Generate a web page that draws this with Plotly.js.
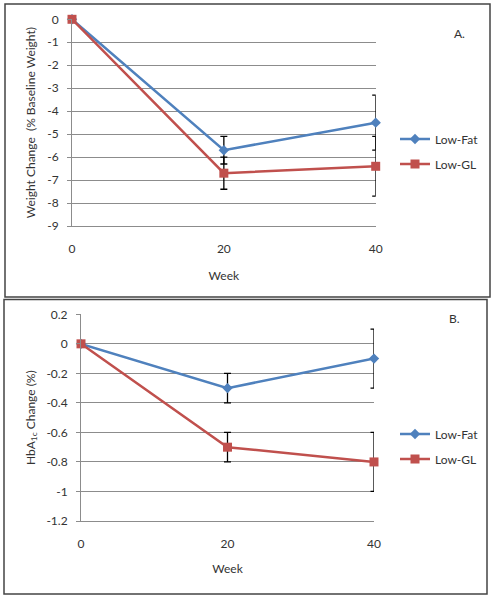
<!DOCTYPE html>
<html>
<head>
<meta charset="utf-8">
<script src="https://cdn.plot.ly/plotly-3.0.1.min.js"></script>
<style>html,body{margin:0;padding:0;background:#fff;}#chart{width:494px;height:599px;}</style>
</head>
<body>
<div id="chart"></div>
<script>
// ---- data ----
const weeks = [0, 20, 40];
const weightLowFat = [0, -5.7, -4.5];
const weightLowGL = [0, -6.7, -6.4];
const weightLowFatErr = [null, 0.6, 1.2];
const weightLowGLErr = [null, 0.7, 1.3];
const hbaLowFat = [0, -0.3, -0.1];
const hbaLowGL = [0, -0.7, -0.8];
const hbaLowFatErr = [null, 0.1, 0.2];
const hbaLowGLErr = [null, 0.1, 0.2];
const xTickVals = [0, 20, 40];
const xTickText = ["0", "20", "40"];
const yTickValsA = [0, -1, -2, -3, -4, -5, -6, -7, -8, -9];
const yTickTextA = ["0", "-1", "-2", "-3", "-4", "-5", "-6", "-7", "-8", "-9"];
const yTickValsB = [0.2, 0, -0.2, -0.4, -0.6, -0.8, -1, -1.2];
const yTickTextB = ["0.2", "0", "-0.2", "-0.4", "-0.6", "-0.8", "-1", "-1.2"];
const seriesNames = ["Low-Fat", "Low-GL"];

// ---- helpers ----
const W = 494, H = 599;
const px = x => x / W;
const py = y => 1 - y / H;
const BLUE = "#4F81BD", RED = "#C0504D";
const FONT = "Lato, 'Liberation Sans', sans-serif";

function tr(x, y, err, name, color, symbol, size, xa, ya, leg) {
  return {
    x: x, y: y, name: name, type: "scatter", mode: "lines+markers",
    xaxis: xa, yaxis: ya, legend: leg, cliponaxis: false,
    line: {color: color, width: 2.5},
    marker: {color: color, symbol: symbol, size: size},
    error_y: {type: "data", array: err, visible: true, color: "#000", thickness: 1.3, width: 3.5}
  };
}

const data = [
  tr(weeks, weightLowFat, weightLowFatErr, seriesNames[0], BLUE, "diamond", 8, "x", "y", "legend"),
  tr(weeks, weightLowGL, weightLowGLErr, seriesNames[1], RED, "square", 9, "x", "y", "legend2"),
  tr(weeks, hbaLowFat, hbaLowFatErr, seriesNames[0], BLUE, "diamond", 8, "x2", "y2", "legend3"),
  tr(weeks, hbaLowGL, hbaLowGLErr, seriesNames[1], RED, "square", 9, "x2", "y2", "legend4")
];

const tickFont = {family: FONT, size: 12, color: "#333"};
function xAxis(domain, anchor, standoff) {
  return {
    domain: domain, anchor: anchor, range: [0, 40], tickvals: xTickVals, ticktext: xTickText,
    showgrid: false, zeroline: false, showline: true, linecolor: "#8c8c8c", linewidth: 1,
    ticks: "", ticklabelstandoff: 12, tickfont: tickFont,
    title: {text: "Week", font: {family: FONT, size: 12, color: "#333"}, standoff: standoff}
  };
}
function yAxis(domain, anchor, range, vals, text, title, standoff) {
  return {
    domain: domain, anchor: anchor, range: range, tickvals: vals, ticktext: text,
    showgrid: true, gridcolor: "#8c8c8c", gridwidth: 1, zeroline: false,
    showline: true, linecolor: "#8c8c8c", linewidth: 1,
    ticks: "outside", ticklen: 4, tickcolor: "#8c8c8c", ticklabelstandoff: 6, tickfont: tickFont,
    title: {text: title, font: {family: FONT, size: 12, color: "#333"}, standoff: standoff}
  };
}
function leg(xp, yp) {
  return {x: px(xp), y: py(yp), xanchor: "left", yanchor: "middle", bgcolor: "rgba(0,0,0,0)",
    borderwidth: 0, font: {family: FONT, size: 12, color: "#333"}, itemwidth: 30};
}

const layout = {
  width: W, height: H, margin: {l: 0, r: 0, t: 0, b: 0},
  paper_bgcolor: "#fff", plot_bgcolor: "#fff", showlegend: true,
  xaxis: xAxis([px(72), px(375.7)], "y", 16),
  yaxis: yAxis([py(226), py(19.3)], "x", [-9, 0], yTickValsA, yTickTextA, "Weight Change  (% Baseline Weight)", 8),
  xaxis2: xAxis([px(81), px(374)], "y2", 14),
  yaxis2: yAxis([py(521), py(314.3)], "x2", [-1.2, 0.2], yTickValsB, yTickTextB, "HbA<sub>1c</sub> Change (%)", 8),
  legend: leg(395, 139),
  legend2: leg(395, 164),
  legend3: leg(395, 434),
  legend4: leg(395, 459),
  shapes: [
    {type: "rect", xref: "paper", yref: "paper", x0: px(5), x1: px(490), y0: py(297), y1: py(4), line: {color: "#444", width: 1.5}},
    {type: "rect", xref: "paper", yref: "paper", x0: px(4), x1: px(487), y0: py(594), y1: py(299.5), line: {color: "#444", width: 1.5}}
  ],
  annotations: [
    {text: "A.", xref: "paper", yref: "paper", x: px(467), y: py(24), showarrow: false, font: {family: FONT, size: 12, color: "#333"}},
    {text: "B.", xref: "paper", yref: "paper", x: px(462), y: py(318), showarrow: false, font: {family: FONT, size: 12, color: "#333"}}
  ]
};

Plotly.newPlot("chart", data, layout, {displayModeBar: false, staticPlot: true});
</script>
</body>
</html>
